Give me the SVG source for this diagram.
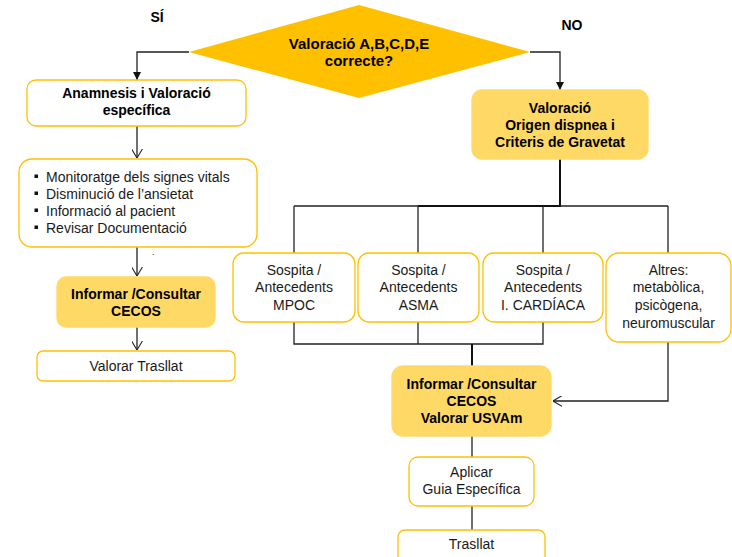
<svg xmlns="http://www.w3.org/2000/svg" width="732" height="557" viewBox="0 0 732 557">
  <style>
    .box { fill: #ffffff; stroke: #ffc000; stroke-width: 1.3; }
    .hot { fill: #ffd966; stroke: #ffd966; stroke-width: 1.3; }
    .b { font-family: "Liberation Sans", Arial, sans-serif; font-weight: bold; font-size: 14px; fill: #000; text-anchor: middle; }
    .r { font-family: "Liberation Sans", Arial, sans-serif; font-size: 14px; fill: #1a1a1a; text-anchor: middle; }
    .l { font-family: "Liberation Sans", Arial, sans-serif; font-size: 14px; fill: #1a1a1a; }
    .ln { fill: none; stroke: #222; stroke-width: 1.3; }
    .thk { fill: none; stroke: #111; stroke-width: 2; }
  </style>
  <defs>
    <marker id="tri" viewBox="0 0 10 10" refX="10" refY="5" markerWidth="8" markerHeight="8" markerUnits="userSpaceOnUse" orient="auto">
      <path d="M0,0 L10,5 L0,10 Z" fill="#111"/>
    </marker>
    <marker id="open" viewBox="0 0 10 12" refX="10" refY="6" markerWidth="9" markerHeight="11" markerUnits="userSpaceOnUse" orient="auto">
      <path d="M0,0 L10,6 L0,12" fill="none" stroke="#222" stroke-width="1.2"/>
    </marker>
  </defs>

  <!-- branch labels -->
  <text class="b" x="157" y="22">SÍ</text>
  <text class="b" x="572" y="30">NO</text>

  <!-- connectors -->
  <g id="connectors">
    <polyline class="ln" points="189,52 137,52 137,80" marker-end="url(#tri)"/>
    <polyline class="ln" points="530,52 560,52 560,90" marker-end="url(#tri)"/>
    <line class="ln" x1="137" y1="126" x2="137" y2="158" marker-end="url(#open)"/>
    <line class="ln" x1="137" y1="247" x2="137" y2="276" marker-end="url(#open)"/>
    <line class="ln" x1="137" y1="327" x2="137" y2="350" marker-end="url(#open)"/>
    <!-- fan-out to suspected causes -->
    <polyline class="thk" points="560,159 560,206 418,206"/>
    <line class="ln" x1="418" y1="206" x2="294" y2="206"/>
    <line class="ln" x1="560" y1="206" x2="668" y2="206"/>
    <line class="ln" x1="294" y1="206" x2="294" y2="253"/>
    <line class="ln" x1="418" y1="206" x2="418" y2="253"/>
    <line class="ln" x1="543" y1="206" x2="543" y2="253"/>
    <line class="ln" x1="668" y1="206" x2="668" y2="253"/>
    <!-- fan-in -->
    <polyline class="ln" points="294,322 294,344 543,344 543,322"/>
    <line class="ln" x1="418" y1="322" x2="418" y2="344"/>
    <line class="thk" x1="472" y1="344" x2="472" y2="366"/>
    <polyline class="ln" points="668,342 668,401 553,401" marker-end="url(#open)"/>
    <line class="ln" x1="472" y1="436" x2="472" y2="457"/>
    <line class="ln" x1="472" y1="506" x2="472" y2="530"/>
  </g>

  <g id="decision">
    <polygon points="359,5 530,52 359,98 189,52" fill="#ffc000"/>
    <text class="b" x="359" y="48.5" style="font-size:15px">Valoració A,B,C,D,E</text>
    <text class="b" x="359" y="65.5" style="font-size:15px">correcte?</text>
  </g>

  <g id="anamnesis">
    <rect class="box" x="27" y="80" width="219" height="46" rx="9"/>
    <text class="b" x="136.5" y="97.5">Anamnesis i Valoració</text>
    <text class="b" x="136.5" y="114.5">específica</text>
  </g>

  <g id="valoracio-origen">
    <rect class="hot" x="472" y="90" width="176" height="69" rx="10"/>
    <text class="b" x="560" y="113">Valoració</text>
    <text class="b" x="560" y="130">Origen dispnea i</text>
    <text class="b" x="560" y="147">Criteris de Gravetat</text>
  </g>

  <g id="mesures">
    <rect class="box" x="19" y="159" width="238" height="88" rx="13"/>
    <g fill="#111">
      <rect x="34.5" y="174.5" width="3.5" height="3.5"/>
      <rect x="34.5" y="191.5" width="3.5" height="3.5"/>
      <rect x="34.5" y="208.5" width="3.5" height="3.5"/>
      <rect x="34.5" y="225.5" width="3.5" height="3.5"/>
    </g>
    <text class="l" x="46" y="182">Monitoratge dels signes vitals</text>
    <text class="l" x="46" y="199">Disminució de l’ansietat</text>
    <text class="l" x="46" y="216">Informació al pacient</text>
    <text class="l" x="46" y="233">Revisar Documentació</text>
  </g>

  <text class="l" x="152" y="255" style="font-size:9px">.</text>

  <g id="cecos-left">
    <rect class="hot" x="57" y="277" width="158" height="50" rx="9"/>
    <text class="b" x="136" y="299">Informar /Consultar</text>
    <text class="b" x="136" y="316">CECOS</text>
  </g>

  <g id="valorar-trasllat">
    <rect class="box" x="37" y="351" width="198" height="30" rx="6"/>
    <text class="r" x="136" y="371">Valorar Trasllat</text>
  </g>

  <g id="mpoc">
    <rect class="box" x="233" y="253" width="122" height="69" rx="11"/>
    <text class="r" x="294" y="275">Sospita /</text>
    <text class="r" x="294" y="292">Antecedents</text>
    <text class="r" x="294" y="310">MPOC</text>
  </g>

  <g id="asma">
    <rect class="box" x="358" y="253" width="121" height="69" rx="11"/>
    <text class="r" x="418.5" y="275">Sospita /</text>
    <text class="r" x="418.5" y="292">Antecedents</text>
    <text class="r" x="418.5" y="310">ASMA</text>
  </g>

  <g id="cardiaca">
    <rect class="box" x="483" y="253" width="120" height="69" rx="11"/>
    <text class="r" x="543" y="275">Sospita /</text>
    <text class="r" x="543" y="292">Antecedents</text>
    <text class="r" x="543" y="310">I. CARDÍACA</text>
  </g>

  <g id="altres">
    <rect class="box" x="606" y="253" width="125" height="89" rx="13"/>
    <text class="r" x="668.5" y="275">Altres:</text>
    <text class="r" x="668.5" y="292">metabòlica,</text>
    <text class="r" x="668.5" y="310">psicògena,</text>
    <text class="r" x="668.5" y="328">neuromuscular</text>
  </g>

  <g id="cecos-usvam">
    <rect class="hot" x="392" y="366" width="159" height="70" rx="11"/>
    <text class="b" x="471.5" y="389">Informar /Consultar</text>
    <text class="b" x="471.5" y="406">CECOS</text>
    <text class="b" x="471.5" y="423">Valorar USVAm</text>
  </g>

  <g id="guia">
    <rect class="box" x="409" y="457" width="125" height="49" rx="9"/>
    <text class="r" x="471.5" y="477">Aplicar</text>
    <text class="r" x="471.5" y="494">Guia Específica</text>
  </g>

  <g id="trasllat">
    <rect class="box" x="398" y="530" width="147" height="40" rx="7"/>
    <text class="r" x="471.5" y="549">Trasllat</text>
  </g>
</svg>
